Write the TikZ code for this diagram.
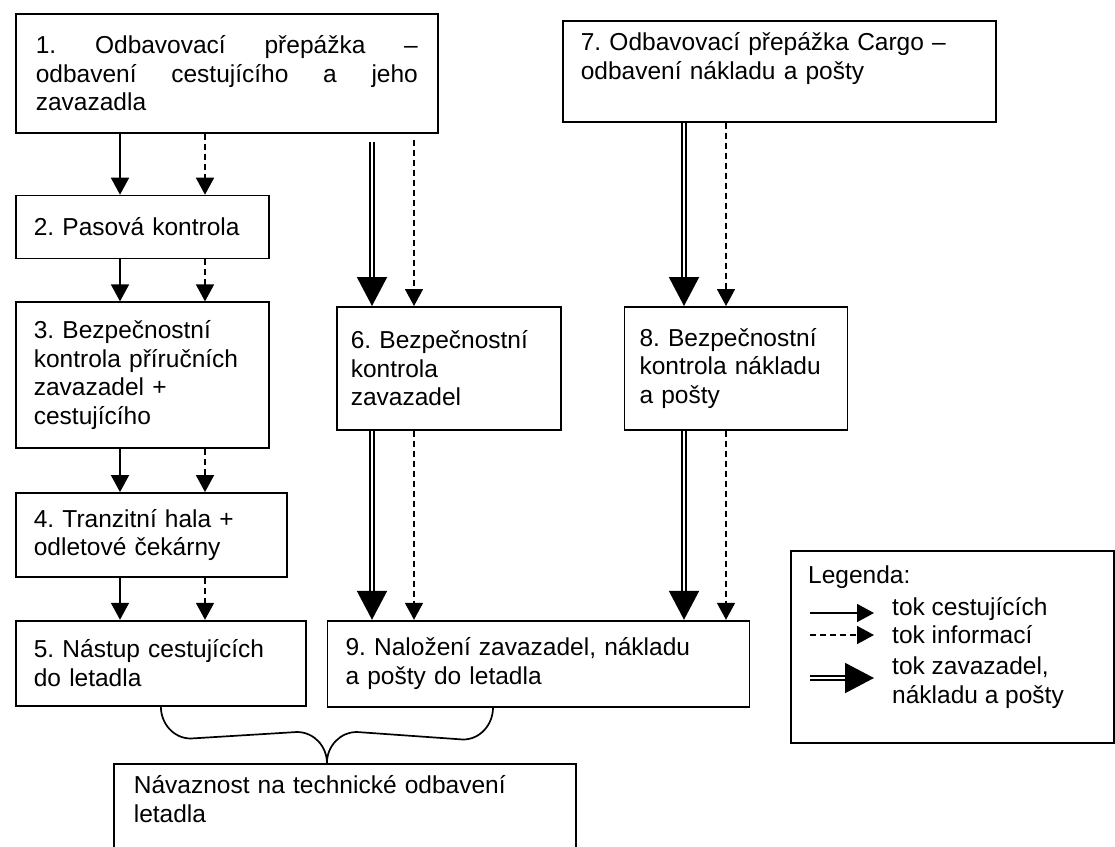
\documentclass[tikz,border=0pt]{standalone}
\usepackage{fontspec}
\setmainfont{Liberation Sans}
\usetikzlibrary{arrows.meta,calc,positioning}
\frenchspacing
\newcommand{\boxfont}{\fontsize{24.5pt}{28.5pt}\selectfont}
\tikzset{
    blok/.style = {
        draw, rectangle, align=left,
        line width=1.7pt,
        anchor=north west,
        inner xsep=18pt,
        font=\boxfont
    },
    lab/.style = {
        inner sep=0, align=left,
        font=\boxfont
    },
    pass/.style = {
        line width=1.7pt,
        -{Triangle[width=18pt,length=17pt]}
    },
    info/.style = {
        pass, dash pattern=on 6pt off 4pt
    },
    cargo/.style = {
        double, double distance=2.6pt, line width=2pt,
        -{Triangle[width=30pt,length=29pt]}
    }
}

\begin{document}
\begin{tikzpicture}[x=1pt,y=1pt]
\useasboundingbox (0,0) rectangle (1115,-846);
\clip (0,0) rectangle (1115,-846);

% passengers
\node[blok, inner xsep=20pt, text width=382pt, minimum height=119pt] (b1) at (15,-13)
    {1.\hfill Odbavovací\hfill přepážka\hfill –\\
     odbavení\hfill cestujícího\hfill a\hfill jeho\\
     zavazadla};
\node[blok, below=61pt of b1.south west, anchor=north west, text width=217pt, minimum height=63pt] (b2)
    {2. Pasová kontrola};
\node[blok, below=42pt of b2.south west, anchor=north west, text width=217pt, minimum height=146pt] (b3)
    {3. Bezpečnostní\\ kontrola příručních\\ zavazadel +\\ cestujícího};
\node[blok, below=43pt of b3.south west, anchor=north west, text width=235pt, minimum height=84pt] (b4)
    {4. Tranzitní hala +\\ odletové čekárny};
\node[blok, below=42pt of b4.south west, anchor=north west, text width=254pt, minimum height=85pt] (b5)
    {5. Nástup cestujících\\ do letadla};

% baggage, cargo and mail
\node[blok, inner xsep=14pt, text width=196pt, minimum height=123pt] (b6) at (336,-306)
    {6. Bezpečnostní\\ kontrola\\ zavazadel};
\node[blok, inner ysep=10pt, text width=397pt, text height=20pt, text depth=61pt] (b7) at (562,-20)
    {7. Odbavovací přepážka Cargo –\\ odbavení nákladu a pošty};
\node[blok, right=62pt of b6.north east, anchor=north west, inner xsep=15pt, text width=193pt, minimum height=123pt] (b8)
    {8. Bezpečnostní\\ kontrola nákladu\\ a pošty};
\node[blok, right=20pt of b5.north east, anchor=north west, text width=386pt, minimum height=86pt] (b9)
    {9. Naložení zavazadel, nákladu\\ a pošty do letadla};
\node[blok, inner xsep=20pt, inner ysep=10pt, text width=422pt, text height=20pt, text depth=80pt] (b10) at (113,-763)
    {Návaznost na technické odbavení\\ letadla};

% flows
\coordinate (xp)  at (120,0);
\coordinate (xi)  at (205,0);
\coordinate (xz)  at (372,0);
\coordinate (xzi) at (414,0);
\coordinate (xc)  at (684,0);
\coordinate (xci) at (726,0);

\foreach \a/\b in {b1/b2,b2/b3,b3/b4,b4/b5}{
    \draw[pass] (\a.south -| xp) -- (\b.north -| xp);
    \draw[info] (\a.south -| xi) -- (\b.north -| xi);
}
\draw[cargo, shorten <=8pt] (b1.south -| xz) -- (b6.north -| xz);
\draw[info, shorten <=6pt] (b1.south -| xzi) -- (b6.north -| xzi);
\draw[cargo] (b6.south -| xz) -- (b9.north -| xz);
\draw[info] (b6.south -| xzi) -- (b9.north -| xzi);
\foreach \a/\b in {b7/b8,b8/b9}{
    \draw[cargo] (\a.south -| xc) -- (\b.north -| xc);
    \draw[info] (\a.south -| xci) -- (\b.north -| xci);
}

% brace
\coordinate (xbr) at (493,0);
\coordinate (brL) at (b5.south);
\coordinate (brR) at (b9.south -| xbr);
\coordinate (brM) at ($(brL)!0.5!(brR)$);
\coordinate (brT) at (brM |- b10.north);
\draw[line width=1.7pt] (brL) to[out=-90,in=180] ($(brL)+(30,-32)$) -- ($(brT)+(-30,31)$)
    to[out=0,in=90] (brT) to[out=90,in=180] ($(brT)+(30,31)$)
    -- ($(brR)+(-30,-32)$) to[out=0,in=-90] (brR);

% legend
\node[draw, line width=1.7pt, minimum width=323pt, minimum height=192pt, anchor=north west] (leg) at (790,-550) {};
\node[lab, anchor=base west] (lt) at ($(leg.north west)+(18,-33)$) {Legenda:};
\foreach \s/\y [count=\i] in {pass/63,info/85,cargo/128}{
    \coordinate (l\i a) at ($(leg.north west)+(20,-\y)$);
    \coordinate (l\i b) at ($(l\i a)+(64,0)$);
    \draw[\s] (l\i a) -- (l\i b);
}
\node[lab, anchor=base west] (lt1) at ($(leg.north west)+(102,-65)$) {tok cestujících};
\node[lab, anchor=base west] (lt2) at ($(leg.north west)+(102,-93)$) {tok informací};
\node[lab, anchor=base west] (lt3) at ($(leg.north west)+(102,-153)$) {tok zavazadel,\\ nákladu a pošty};

\end{tikzpicture}
\end{document}
